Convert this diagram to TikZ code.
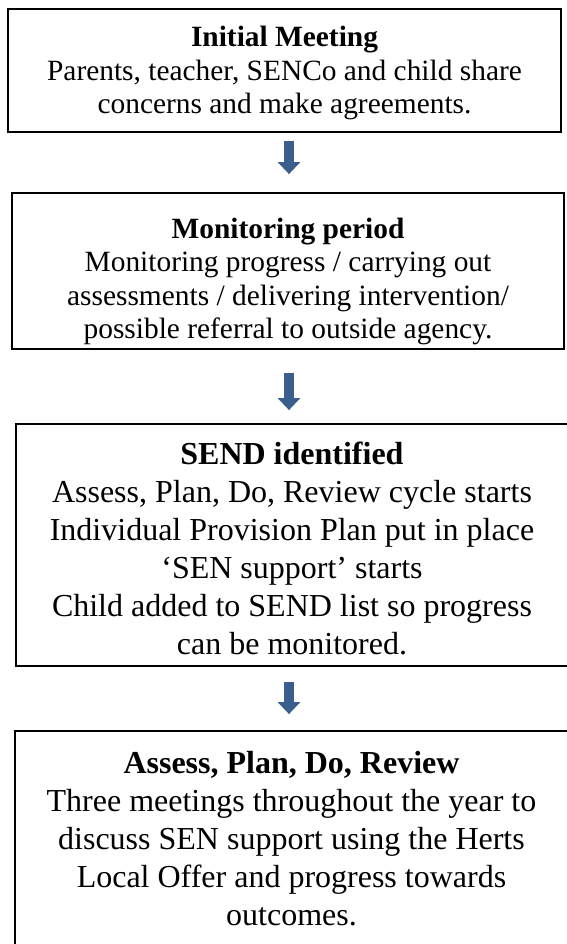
\documentclass[tikz,border=0pt]{standalone}
\usepackage{fontspec}
\setmainfont{Liberation Serif}
\usetikzlibrary{arrows.meta}
\definecolor{arrowblue}{RGB}{59,94,140}

\begin{document}
\begin{tikzpicture}[x=1pt, y=-1pt,
    stage/.style={draw=black, line width=1.8pt, align=center, inner sep=0pt},
    small/.style={font=\fontsize{29.4}{33.5}\selectfont},
    large/.style={font=\fontsize{32}{38}\selectfont},
    flow/.style={draw=arrowblue, line width=10pt,
      -{Triangle[width=22pt, length=12pt]}}
  ]
  % Page frame
  \useasboundingbox (0,0) rectangle (566,944);

  % Column that the arrows run down
  \coordinate (axis) at (289,0);

  % The four stages
  \node (init) [stage, small, text depth=0.5pt,
      minimum width=553pt, minimum height=123pt]
    at (284.5,70.5)
    {\textbf{Initial Meeting}\\
     Parents, teacher, SENCo and child share\\
     concerns and make agreements.};

  \node (monitor) [stage, small, text height=135pt, text depth=0pt,
      minimum width=552pt, minimum height=156pt]
    at (288,271)
    {\textbf{Monitoring period}\\
     Monitoring progress / carrying out\\
     assessments / delivering intervention/\\
     possible referral to outside agency.};

  \node (send) [stage, large, text height=218pt, text depth=0pt,
      minimum width=552pt, minimum height=242pt]
    at (292,545)
    {\textbf{SEND identified}\\
     Assess, Plan, Do, Review cycle starts\\
     Individual Provision Plan put in place\\
     ‘SEN support’ starts\\
     Child added to SEND list so progress\\
     can be monitored.};

  \node (review) [stage, large, minimum width=553pt, minimum height=215pt]
    at (291.5,838.5)
    {\textbf{Assess, Plan, Do, Review}\\
     Three meetings throughout the year to\\
     discuss SEN support using the Herts\\
     Local Offer and progress towards\\
     outcomes.};

  % Arrows between the stages
  \draw[flow, shorten <=8pt, shorten >=18pt]
    (init.south -| axis) -- (monitor.north -| axis);
  \draw[flow, shorten <=23pt, shorten >=13pt]
    (monitor.south -| axis) -- (send.north -| axis);
  \draw[flow, shorten <=15pt, shorten >=16pt]
    (send.south -| axis) -- (review.north -| axis);

\end{tikzpicture}
\end{document}
